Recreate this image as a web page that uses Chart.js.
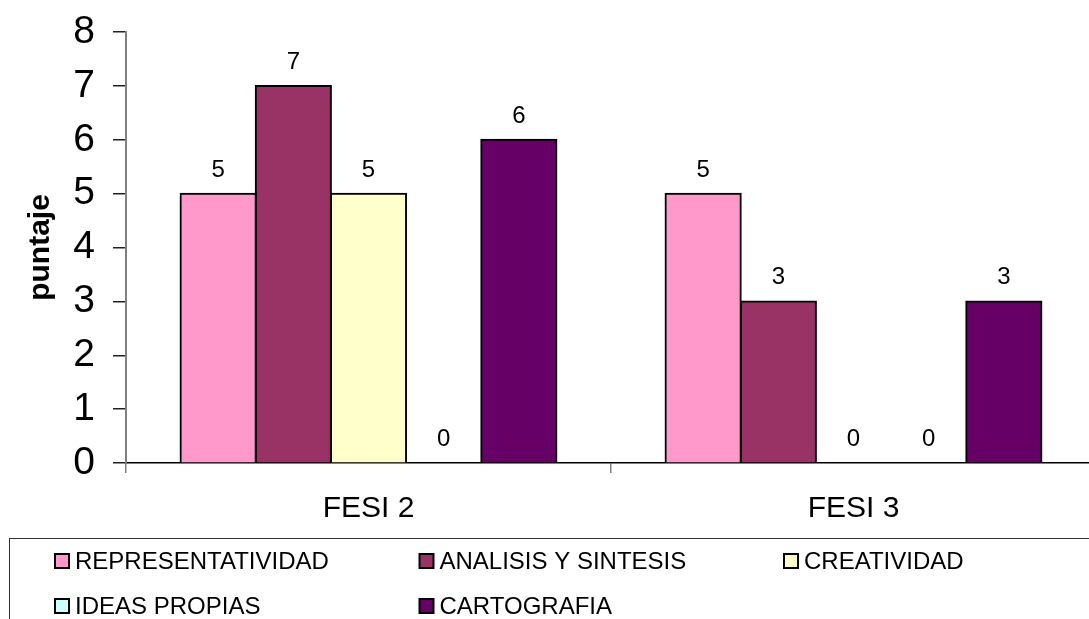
<!DOCTYPE html>
<html>
<head>
<meta charset="utf-8">
<script src="https://cdn.jsdelivr.net/npm/chart.js@4.4.0/dist/chart.umd.min.js"></script>
<style>
  html, body { margin: 0; padding: 0; background: #fff; overflow: hidden; }
  #wrap { position: relative; width: 1100px; height: 619px; }
</style>
</head>
<body>
<div id="wrap"><canvas id="chart"></canvas></div>
<script>
const categories = ["FESI 2", "FESI 3"];
const seriesNames = ["REPRESENTATIVIDAD", "ANALISIS Y SINTESIS", "CREATIVIDAD", "IDEAS PROPIAS", "CARTOGRAFIA"];
const representatividad = [5, 5];
const analisisSintesis = [7, 3];
const creatividad = [5, 0];
const ideasPropias = [0, 0];
const cartografia = [6, 3];
const seriesColors = ["#FF99CC", "#993366", "#FFFFCC", "#CCFFFF", "#660066"];
const yMin = 0;
const yMax = 8;
const yTitle = "puntaje";

const font = "'Liberation Sans', Arial, sans-serif";

const datasets = [representatividad, analisisSintesis, creatividad, ideasPropias, cartografia].map((data, i) => ({
  label: seriesNames[i],
  data: data,
  backgroundColor: seriesColors[i],
  borderColor: "#000000",
  borderWidth: 2,
  borderSkipped: "bottom",
  inflateAmount: 1,
  barPercentage: 1,
  categoryPercentage: 0.775,
}));

// value labels above every bar (zeros included)
const valueLabels = {
  id: "valueLabels",
  afterDatasetsDraw(chart) {
    const ctx = chart.ctx;
    ctx.save();
    ctx.font = "24px " + font;
    ctx.fillStyle = "#000";
    ctx.textAlign = "center";
    ctx.textBaseline = "alphabetic";
    chart.data.datasets.forEach((ds, i) => {
      chart.getDatasetMeta(i).data.forEach((bar, j) => {
        ctx.fillText(String(ds.data[j]), bar.x, bar.y - 17);
      });
    });
    ctx.restore();
  },
};

// boxed legend in a fixed grid, like the spreadsheet one
const gridLegend = {
  id: "gridLegend",
  afterDraw(chart) {
    const ctx = chart.ctx;
    ctx.save();
    ctx.strokeStyle = "#333";
    ctx.lineWidth = 1;
    ctx.strokeRect(9.5, 538.5, 1200, 200);
    ctx.font = "24px " + font;
    ctx.textBaseline = "middle";
    ctx.textAlign = "left";
    chart.data.datasets.forEach((ds, i) => {
      const col = i % 3;
      const row = Math.floor(i / 3);
      const x = 55 + col * 364.5;
      const y = 561 + row * 45;
      ctx.fillStyle = ds.backgroundColor;
      ctx.fillRect(x, y - 7, 14, 14);
      ctx.strokeStyle = "#000";
      ctx.lineWidth = 2;
      ctx.strokeRect(x, y - 7, 14, 14);
      ctx.fillStyle = "#000";
      ctx.fillText(ds.label, x + 20, y + 1);
    });
    ctx.restore();
  },
};

new Chart(document.getElementById("chart"), {
  type: "bar",
  data: { labels: categories, datasets: datasets },
  plugins: [valueLabels, gridLegend],
  options: {
    responsive: true,
    maintainAspectRatio: false,
    animation: false,
    layout: { padding: { top: 32, right: 4, bottom: 0, left: 0 } },
    plugins: {
      legend: { display: false },
      tooltip: { enabled: false },
    },
    scales: {
      x: {
        grid: {
          display: true,
          drawOnChartArea: false,
          drawTicks: true,
          tickLength: 10,
          color: "#808080",
          lineWidth: 1.5,
        },
        border: { display: true, color: "#000", width: 1.5 },
        ticks: {
          color: "#000",
          font: { family: font, size: 30 },
          padding: 18,
        },
        afterFit(scale) { scale.height = 156; },
      },
      y: {
        min: yMin,
        max: yMax,
        grid: {
          display: true,
          drawOnChartArea: false,
          drawTicks: true,
          tickLength: 13,
          color: "#222",
          lineWidth: 1.5,
        },
        border: { display: true, color: "#808080", width: 2 },
        ticks: {
          stepSize: 1,
          color: "#000",
          font: { family: font, size: 39, lineHeight: 0.6 },
          padding: 18,
        },
        title: {
          display: true,
          text: yTitle,
          color: "#000",
          font: { family: font, size: 30, weight: "bold" },
          padding: { top: 23, bottom: 0 },
        },
        afterFit(scale) { scale.width = 126; },
      },
    },
  },
});
</script>
</body>
</html>
